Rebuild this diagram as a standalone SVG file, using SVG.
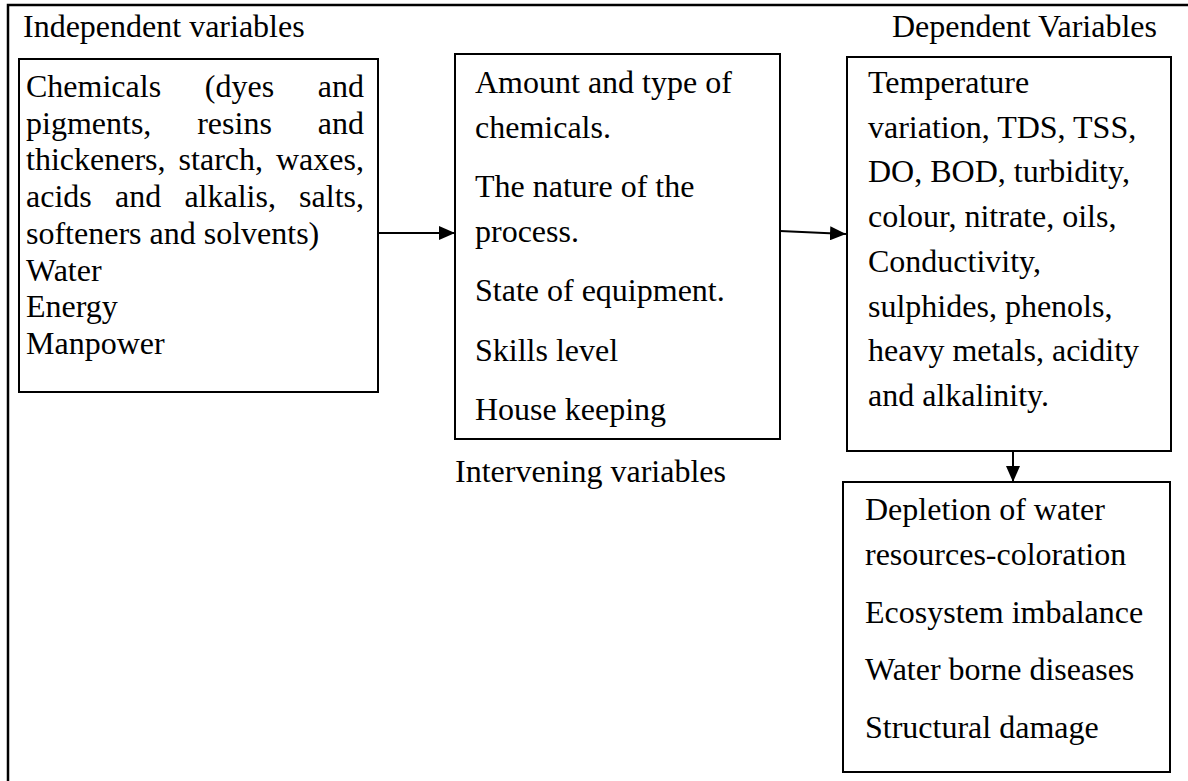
<svg xmlns="http://www.w3.org/2000/svg" width="1188" height="781" viewBox="0 0 1188 781">
  <style>
    .frame { fill: none; stroke: #000; stroke-width: 2.5; }
    .box { fill: #fff; stroke: #000; stroke-width: 2; }
    .t { font-family: "Liberation Serif", "Times New Roman", serif; font-size: 32px; fill: #000; }
    .conn { fill: none; stroke: #000; stroke-width: 2; }
  </style>
  <defs>
    <marker id="arrow" markerUnits="userSpaceOnUse" markerWidth="16" markerHeight="14" refX="16" refY="7" orient="auto">
      <path d="M0,0 L16,7 L0,14 Z" fill="#000"/>
    </marker>
  </defs>

  <rect width="1188" height="781" fill="#fff"/>

  <!-- outer frame: top and left edges -->
  <path class="frame" d="M8,781 L8,5 L1188,5"/>

  <text class="t" x="23" y="37">Independent variables</text>
  <text class="t" x="1157" y="37" text-anchor="end">Dependent Variables</text>

  <g id="inputs">
    <rect class="box" x="19" y="59" width="359" height="333"/>
    <text class="t"><tspan x="26" y="97">Chemicals</tspan><tspan x="204.8" y="97">(dyes</tspan><tspan x="317.8" y="97">and</tspan></text>
    <text class="t"><tspan x="26" y="133.7">pigments,</tspan><tspan x="197.2" y="133.7">resins</tspan><tspan x="317.8" y="133.7">and</tspan></text>
    <text class="t"><tspan x="26" y="170.4">thickeners,</tspan><tspan x="178.6" y="170.4">starch,</tspan><tspan x="276" y="170.4">waxes,</tspan></text>
    <text class="t"><tspan x="26" y="207.1">acids</tspan><tspan x="115" y="207.1">and</tspan><tspan x="184.4" y="207.1">alkalis,</tspan><tspan x="299.1" y="207.1">salts,</tspan></text>
    <text class="t" x="26" y="243.8">softeners and solvents)</text>
    <text class="t" x="26" y="280.5">Water</text>
    <text class="t" x="26" y="317.2">Energy</text>
    <text class="t" x="26" y="353.9">Manpower</text>
  </g>

  <g id="intervening">
    <rect class="box" x="455" y="54" width="325" height="385"/>
    <text class="t" x="475" y="93">Amount and type of</text>
    <text class="t" x="475" y="137.7">chemicals.</text>
    <text class="t" x="475" y="197.1">The nature of the</text>
    <text class="t" x="475" y="241.8">process.</text>
    <text class="t" x="475" y="301.2">State of equipment.</text>
    <text class="t" x="475" y="360.6">Skills level</text>
    <text class="t" x="475" y="420">House keeping</text>
  </g>

  <text id="intervening-label" class="t" x="455" y="482">Intervening variables</text>

  <g id="outputs">
    <rect class="box" x="847" y="57" width="324" height="394"/>
    <text class="t" x="868" y="93">Temperature</text>
    <text class="t" x="868" y="137.7">variation, TDS, TSS,</text>
    <text class="t" x="868" y="182.4">DO, BOD, turbidity,</text>
    <text class="t" x="868" y="227.1">colour, nitrate, oils,</text>
    <text class="t" x="868" y="271.8">Conductivity,</text>
    <text class="t" x="868" y="316.5">sulphides, phenols,</text>
    <text class="t" x="868" y="361.2">heavy metals, acidity</text>
    <text class="t" x="868" y="406">and alkalinity.</text>
  </g>

  <g id="impacts">
    <rect class="box" x="843" y="482" width="327" height="290"/>
    <text class="t" x="865" y="520">Depletion of water</text>
    <text class="t" x="865" y="564.7">resources-coloration</text>
    <text class="t" x="865" y="622.5">Ecosystem imbalance</text>
    <text class="t" x="865" y="680.3">Water borne diseases</text>
    <text class="t" x="865" y="738">Structural damage</text>
  </g>

  <g id="connectors">
    <line class="conn" x1="378" y1="233" x2="455" y2="233" marker-end="url(#arrow)"/>
    <line class="conn" x1="780" y1="231" x2="846" y2="234" marker-end="url(#arrow)"/>
    <line class="conn" x1="1013" y1="451" x2="1013" y2="482" marker-end="url(#arrow)"/>
  </g>
</svg>
